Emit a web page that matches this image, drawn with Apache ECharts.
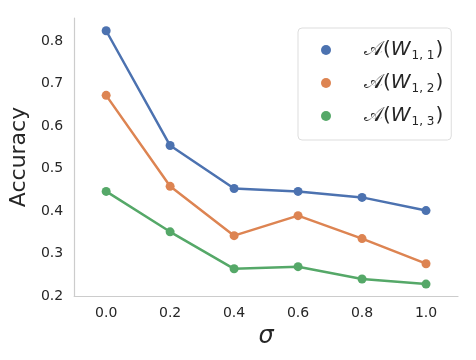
<!DOCTYPE html>
<html>
<head>
<meta charset="utf-8">
<script src="https://cdn.jsdelivr.net/npm/echarts@6/dist/echarts.min.js"></script>
<style>
  html, body { margin: 0; padding: 0; background: #fff; }
  #chart { width: 476px; height: 360px; }
</style>
</head>
<body>
<div id="chart"></div>
<script>
const sigma = [0.0, 0.2, 0.4, 0.6, 0.8, 1.0];
const accW11 = [0.824, 0.554, 0.453, 0.446, 0.432, 0.401];
const accW12 = [0.672, 0.458, 0.342, 0.389, 0.335, 0.276];
const accW13 = [0.446, 0.351, 0.264, 0.269, 0.240, 0.228];
const seriesNames = ["W11", "W12", "W13"];
const subLabels = { W11: "1, 1", W12: "1, 2", W13: "1, 3" };
const xTicks = [0.0, 0.2, 0.4, 0.6, 0.8, 1.0];
const yTicks = [0.2, 0.3, 0.4, 0.5, 0.6, 0.7, 0.8];
const colors = ["#4c72b0", "#dd8452", "#55a868"];

const chart = echarts.init(document.getElementById("chart"));

const mkSeries = (name, vals, color) => ({
  name: name,
  type: "line",
  data: sigma.map((s, i) => [s, vals[i]]),
  symbol: "circle",
  symbolSize: 9,
  lineStyle: { color: color, width: 2.5 },
  itemStyle: { color: color },
});

const option = {
  animation: false,
  textStyle: { fontFamily: "DejaVu Sans" },
  grid: { left: 74, right: 18, top: 18, bottom: 64 },
  xAxis: {
    type: "value",
    min: -0.1,
    max: 1.1,
    name: "σ",
    nameLocation: "middle",
    nameGap: 25,
    nameTextStyle: { fontSize: 24, fontStyle: "italic", color: "#262626" },
    axisLine: { onZero: false, lineStyle: { color: "#cccccc", width: 1.2 } },
    axisTick: { show: false },
    splitLine: { show: false },
    axisLabel: {
      customValues: xTicks,
      margin: 10,
      fontSize: 14,
      color: "#262626",
      formatter: (v) => v.toFixed(1),
    },
  },
  yAxis: {
    type: "value",
    min: 0.2,
    max: 0.854,
    name: "Accuracy",
    nameLocation: "middle",
    nameGap: 41,
    nameTextStyle: { fontSize: 22, color: "#262626" },
    axisLine: { show: true, onZero: false, lineStyle: { color: "#cccccc", width: 1.2 } },
    axisTick: { show: false },
    splitLine: { show: false },
    axisLabel: {
      customValues: yTicks,
      margin: 11,
      fontSize: 14,
      color: "#262626",
      formatter: (v) => v.toFixed(1),
    },
  },
  legend: {
    orient: "vertical",
    left: 298,
    top: 28,
    padding: [12, 8, 12, 23],
    itemGap: 11,
    itemWidth: 10,
    itemHeight: 10,
    icon: "circle",
    backgroundColor: "#ffffff",
    borderColor: "#dddddd",
    borderWidth: 1,
    borderRadius: 4,
    data: seriesNames,
    formatter: (name) => "{a|𝒜(}{w|W}{s|" + subLabels[name] + "}{a|)}",
    textStyle: {
      padding: [0, 0, 0, 28],
      rich: {
        a: { fontSize: 20, color: "#262626", fontFamily: "DejaVu Sans", height: 24 },
        w: { fontSize: 20, color: "#262626", fontFamily: "DejaVu Sans", fontStyle: "italic", height: 24 },
        s: { fontSize: 12, color: "#262626", fontFamily: "DejaVu Sans", verticalAlign: "bottom", padding: [12, 1, 0, 1] },
      },
    },
  },
  series: [
    mkSeries(seriesNames[0], accW11, colors[0]),
    mkSeries(seriesNames[1], accW12, colors[1]),
    mkSeries(seriesNames[2], accW13, colors[2]),
  ],
};

chart.setOption(option);
</script>
</body>
</html>
